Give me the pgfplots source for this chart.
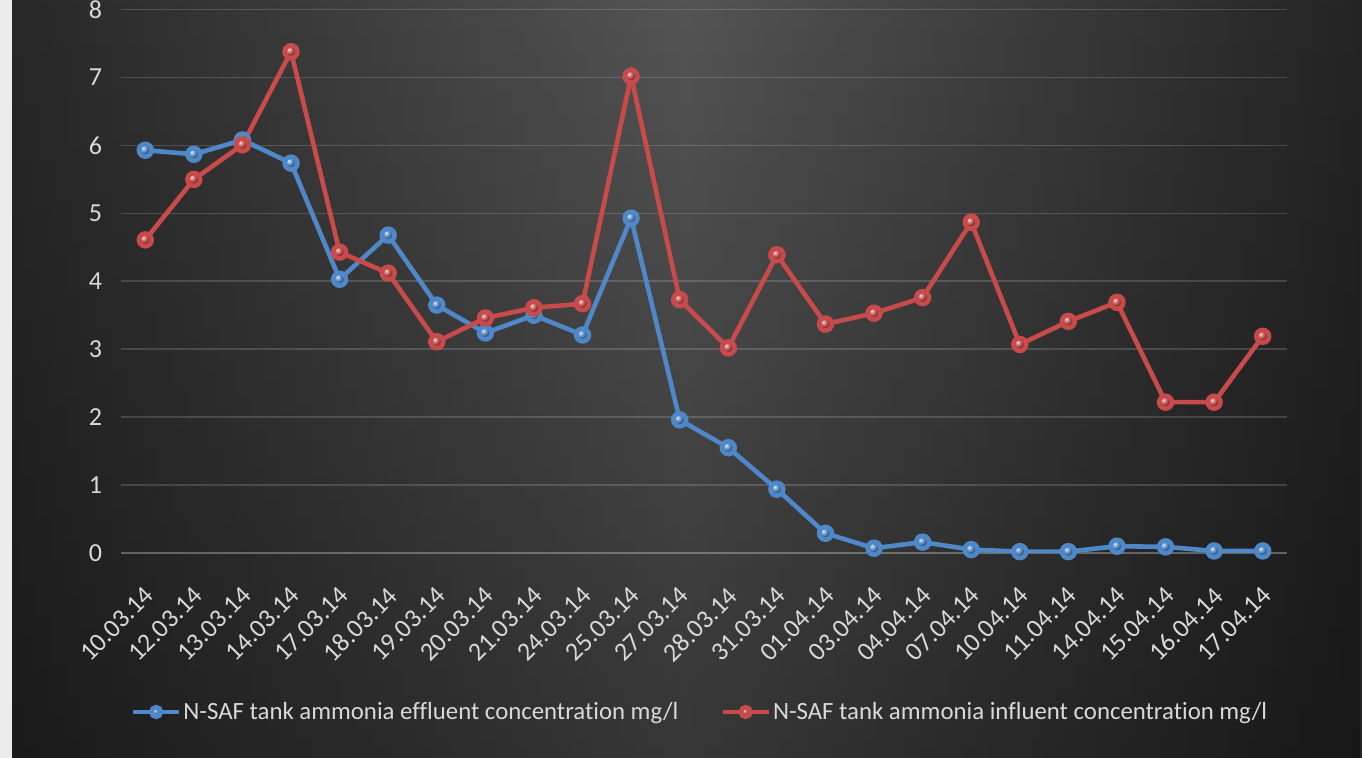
\documentclass[border=0pt]{standalone}
\usepackage{pgfplots}
\pgfplotsset{compat=1.18}
\usepackage{fontspec}
\setmainfont{Carlito}[Ligatures=NoCommon]
\usetikzlibrary{fadings}
\definecolor{bgL}{HTML}{282828}
\definecolor{bgM}{HTML}{545454}
\definecolor{bgR}{HTML}{242424}
\definecolor{lbl}{HTML}{D9D9D9}
\definecolor{effl}{HTML}{4F88C8}
\definecolor{infl}{HTML}{C84A4A}
\pgfplotstableread{
x eff inf
0 5.93 4.61
1 5.87 5.50
2 6.08 6.01
3 5.74 7.38
4 4.03 4.43
5 4.68 4.12
6 3.65 3.11
7 3.24 3.46
8 3.50 3.61
9 3.21 3.67
10 4.93 7.02
11 1.96 3.73
12 1.55 3.02
13 0.94 4.39
14 0.29 3.37
15 0.07 3.53
16 0.16 3.76
17 0.05 4.87
18 0.02 3.07
19 0.02 3.41
20 0.10 3.69
21 0.09 2.22
22 0.03 2.22
23 0.03 3.19
}\datatable
\begin{document}
\begin{tikzpicture}
\shade[left color=bgL, right color=bgR, middle color=bgM] (6pt,0) rectangle (681pt,379pt);
\fill[black, path fading=north, fill opacity=0.35] (6pt,0) rectangle (681pt,379pt);
\fill[gray!15] (0,0) rectangle (6pt,379pt);
\path[use as bounding box] (0,0) rectangle (681pt,379pt);
\begin{axis}[
  at={(60.5pt,102.5pt)}, anchor=south west,
  scale only axis, width=583pt, height=271.7pt,
  xmin=-0.5, xmax=23.5, ymin=0, ymax=8,
  xtick={0,...,23},
  xticklabels={10.03.14,12.03.14,13.03.14,14.03.14,17.03.14,18.03.14,19.03.14,20.03.14,21.03.14,24.03.14,25.03.14,27.03.14,28.03.14,31.03.14,01.04.14,03.04.14,04.04.14,07.04.14,10.04.14,11.04.14,14.04.14,15.04.14,16.04.14,17.04.14},
  ytick={0,...,8},
  axis line style={draw=none},
  major tick length=0pt,
  ymajorgrids,
  major grid style={white, opacity=0.16, line width=0.8pt},
  extra y ticks={0}, extra y tick labels={},
  extra y tick style={grid style={color=white, opacity=0.55, line width=1pt}},
  tick label style={text=lbl, font=\fontsize{13}{15}\selectfont},
  /pgf/number format/assume math mode=true,
  yticklabel style={xshift=-6pt},
  xticklabel style={xshift=-1pt, yshift=-14.5pt, rotate=45, anchor=north east, inner sep=1pt},
  legend style={at={(0.4966,-0.2926)}, anchor=center, draw=none, fill=none,
    text=lbl, font=\fontsize{12.4}{14}\selectfont, legend columns=2,
    /tikz/every even column/.append style={column sep=20pt},
    nodes={inner xsep=1pt},
    inner sep=0pt},
  legend image code/.code={\draw[mark repeat=2, mark phase=2, #1, mark size=2.4pt] plot coordinates {(0pt,0pt) (11.5pt,0pt) (23pt,0pt)};},
]
\addplot[effl, line width=2.3pt, mark=ball, mark size=3.2pt, mark options={ball color=effl}] table[x=x, y=eff] {\datatable};
\addlegendentry{N-SAF tank ammonia effluent concentration mg/l}
\addplot[infl, line width=2.3pt, mark=ball, mark size=3.2pt, mark options={ball color=infl}] table[x=x, y=inf] {\datatable};
\addlegendentry{N-SAF tank ammonia influent concentration mg/l}
\end{axis}
\end{tikzpicture}
\end{document}
